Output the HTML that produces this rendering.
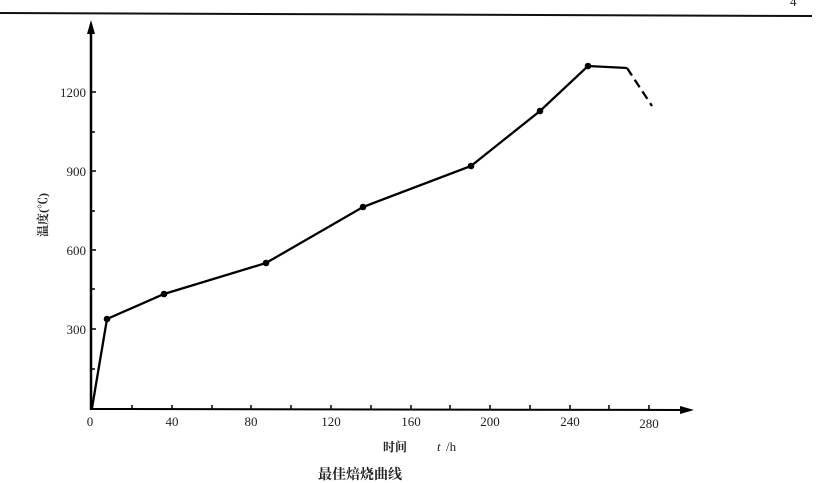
<!DOCTYPE html>
<html><head><meta charset="utf-8"><style>
body{margin:0;background:#fff;}
svg{display:block;font-family:"Liberation Serif","Noto Serif CJK SC",serif;}
</style></head><body>
<svg width="820" height="483" viewBox="0 0 820 483" xmlns="http://www.w3.org/2000/svg">
<line x1="0" y1="13" x2="812" y2="16" stroke="#111" stroke-width="2"/>
<text x="790" y="6" font-size="13" fill="#222">4</text>
<!-- axes -->
<line x1="91" y1="28" x2="91" y2="410" stroke="#000" stroke-width="2.5"/>
<polygon points="91,20 87,34 95,34" fill="#000"/>
<line x1="91" y1="409" x2="685" y2="410" stroke="#000" stroke-width="2"/>
<polygon points="694,410 680,406 680,414" fill="#000"/>
<!-- y ticks -->
<g stroke="#000" stroke-width="1.5">
<line x1="91" y1="92" x2="96" y2="92"/><line x1="91" y1="132" x2="95" y2="132"/>
<line x1="91" y1="171" x2="96" y2="171"/><line x1="91" y1="211" x2="95" y2="211"/>
<line x1="91" y1="250" x2="96" y2="250"/><line x1="91" y1="289" x2="95" y2="289"/>
<line x1="91" y1="329" x2="96" y2="329"/><line x1="91" y1="369" x2="95" y2="369"/>
</g>
<g font-size="13" fill="#222" text-anchor="end">
<text x="86" y="97">1200</text><text x="86" y="176">900</text>
<text x="86" y="255">600</text><text x="86" y="334">300</text>
</g>
<text transform="translate(47,215) rotate(-90)" font-size="12" font-weight="bold" fill="#222" text-anchor="middle">温度(℃)</text>
<!-- x ticks -->
<g stroke="#000" stroke-width="1.5">
<line x1="132" y1="405" x2="132" y2="409"/><line x1="172" y1="405" x2="172" y2="409"/>
<line x1="212" y1="405" x2="212" y2="409"/><line x1="251" y1="405" x2="251" y2="409"/>
<line x1="291" y1="405" x2="291" y2="409"/><line x1="331" y1="405" x2="331" y2="409"/>
<line x1="371" y1="405" x2="371" y2="409"/><line x1="411" y1="405" x2="411" y2="409"/>
<line x1="450" y1="405" x2="450" y2="409"/><line x1="490" y1="405" x2="490" y2="409"/>
<line x1="530" y1="405" x2="530" y2="409"/><line x1="570" y1="405" x2="570" y2="409"/>
<line x1="609" y1="405" x2="609" y2="409"/><line x1="649" y1="405" x2="649" y2="409"/>
</g>
<g font-size="13" fill="#222" text-anchor="middle">
<text x="90" y="426">0</text><text x="172" y="426">40</text><text x="251" y="426">80</text>
<text x="331" y="426">120</text><text x="411" y="426">160</text><text x="490" y="426">200</text>
<text x="570" y="426">240</text><text x="649" y="428">280</text>
</g>
<text x="395" y="451" font-size="12" font-weight="bold" fill="#222" text-anchor="middle">时间</text>
<text x="437" y="451" font-size="13" font-style="italic" fill="#222">t</text>
<text x="446" y="451" font-size="13" fill="#222">/h</text>
<text x="360" y="479" font-size="14" font-weight="bold" fill="#222" text-anchor="middle">最佳焙烧曲线</text>
<!-- curve -->
<polyline points="92,408 107,319 164,294 266,263 363,207 471,166 540,111 588,66 627,68" fill="none" stroke="#000" stroke-width="2.3"/>
<line x1="627" y1="68" x2="652" y2="106" stroke="#000" stroke-width="2.3" stroke-dasharray="9,5"/>
<g fill="#000">
<circle cx="107" cy="319" r="3.3"/><circle cx="164" cy="294" r="3.3"/>
<circle cx="266" cy="263" r="3.3"/><circle cx="363" cy="207" r="3.3"/>
<circle cx="471" cy="166" r="3.3"/><circle cx="540" cy="111" r="3.3"/>
<circle cx="588" cy="66" r="3.3"/>
</g>
</svg>
</body></html>
